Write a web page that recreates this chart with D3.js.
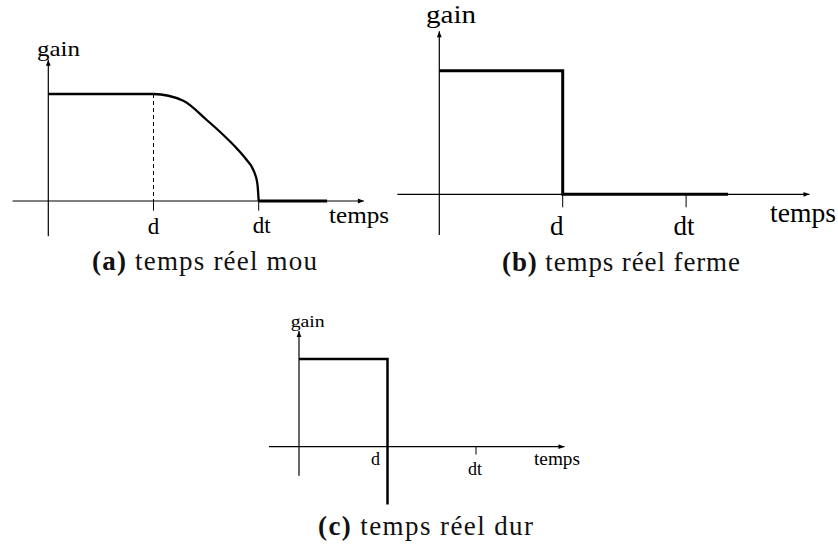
<!DOCTYPE html>
<html>
<head>
<meta charset="utf-8">
<script src="https://cdn.jsdelivr.net/npm/d3@7"></script>
<style>
  body { margin: 0; background: #fff; }
  svg { display: block; }
  .lbl { font-family: "Liberation Serif", "Times New Roman", serif; fill: #000; }
  .cap { font-family: "Liberation Serif", "Times New Roman", serif; fill: #111; }
</style>
</head>
<body>
<div id="chart"></div>
<script>
// time units: origin = 0, d = 1, dt = 2 ; gain units: 0 .. 1
var tickValues = [1, 2]
var tickLabels = ["d", "dt"]

// (a) soft real time : gain decays smoothly after d, reaches 0 at dt
var softGain = [[0,1],[1,1],[1.283,0.937],[1.506,0.757],[1.664,0.617],[1.791,0.492],[1.886,0.383],[1.949,0.29],[1.987,0.165],[2,0]]
var softTail = [[2,0],[2.65,0]]
// (b) firm real time : gain drops to 0 at d
var firmGain = [[0,1],[1,1],[1,0],[2.34,0]]
// (c) hard real time : gain falls below 0 at d
var hardGain = [[0,1],[1,1],[1,-0.66]]

var captions = [["(a)", " temps réel mou"], ["(b)", " temps réel ferme"], ["(c)", " temps réel dur"]]

var W = 838, H = 549

var svg = d3.select("#chart").append("svg")
    .attr("width", W)
    .attr("height", H)

// arrow head for the axes
svg.append("defs").append("marker")
    .attr("id", "arrow")
    .attr("markerUnits", "userSpaceOnUse")
    .attr("viewBox", "0 0 10 10")
    .attr("refX", 10).attr("refY", 5)
    .attr("markerWidth", 9).attr("markerHeight", 6)
    .attr("orient", "auto")
  .append("path")
    .attr("d", "M0,1 L10,5 L0,9 z")
    .attr("fill", "#000")

// panel geometry (pixel position of origin, d and gain=1) and label placement
var panels = [
  {ox: 48.3, dx: 153.5, oy: 201, gy: 94, lw: 2.3, data: softGain, tail: softTail, smooth: true,
   dashed: true, ticks: [1, 2], tickLen: 0.09,
   font: 23, gain: {x: 37, y: 56, size: 21, len: 43}, temps: {x: 329, y: 223, size: 24, len: 60},
   tl: [{dx: 0, y: 234}, {dx: 3, y: 233}],
   cap: {x: 92, y: 270, size: 27, len: 225}},
  {ox: 439.3, dx: 562.7, oy: 194.3, gy: 70.7, lw: 3, data: firmGain, smooth: false,
   dashed: false, ticks: [1, 2], tickLen: 0.105,
   font: 27, gain: {x: 426, y: 23, size: 25, len: 50}, temps: {x: 770, y: 222, size: 27, len: 66},
   tl: [{dx: -6, y: 235}, {dx: -2, y: 235}],
   cap: {x: 502, y: 271, size: 27, len: 238}},
  {ox: 299, dx: 387.5, oy: 446.7, gy: 359, lw: 2.5, data: hardGain, smooth: false,
   dashed: false, ticks: [2], tickLen: 0.09,
   font: 18, gain: {x: 290.7, y: 326.7, size: 17, len: 34}, temps: {x: 534, y: 465, size: 18, len: 46},
   tl: [{dx: -12, y: 465}, {dx: -1, y: 475}],
   cap: {x: 318, y: 535, size: 27, len: 215}}
]

panels.forEach(function(p, i) {
  var x = d3.scaleLinear().domain([0, 1]).range([p.ox, p.dx])
  var y = d3.scaleLinear().domain([0, 1]).range([p.oy, p.gy])
  var g = svg.append("g")

  // axes
  g.append("line")
      .attr("x1", x(-0.34)).attr("x2", x(3.0))
      .attr("y1", y(0)).attr("y2", y(0))
      .attr("stroke", "#000").attr("stroke-width", 1.2)
      .attr("marker-end", "url(#arrow)")
  g.append("line")
      .attr("x1", x(0)).attr("x2", x(0))
      .attr("y1", y(-0.33)).attr("y2", y(1.32))
      .attr("stroke", "#000").attr("stroke-width", 1.2)
      .attr("marker-end", "url(#arrow)")

  // dashed guide at d (panel a only)
  if (p.dashed) {
    g.append("line")
        .attr("x1", x(1)).attr("x2", x(1))
        .attr("y1", y(1)).attr("y2", y(0))
        .attr("stroke", "#000").attr("stroke-width", 1)
        .attr("stroke-dasharray", "4,3")
  }

  // ticks under the axis
  g.selectAll(".tick")
      .data(p.ticks)
    .enter().append("line")
      .attr("x1", function(d) { return x(d) }).attr("x2", function(d) { return x(d) })
      .attr("y1", y(0)).attr("y2", y(-p.tickLen))
      .attr("stroke", "#000").attr("stroke-width", 1)

  // gain curve
  var line = d3.line()
      .x(function(d) { return x(d[0]) })
      .y(function(d) { return y(d[1]) })
      .curve(p.smooth ? d3.curveMonotoneX : d3.curveLinear)
  g.append("path")
      .attr("d", line(p.data))
      .attr("fill", "none").attr("stroke", "#000")
      .attr("stroke-width", p.lw)
  if (p.tail) {
    g.append("path")
        .attr("d", d3.line().x(function(d) { return x(d[0]) }).y(function(d) { return y(d[1]) })(p.tail))
        .attr("fill", "none").attr("stroke", "#000")
        .attr("stroke-width", p.lw + 0.7)
  }

  // tick labels
  g.selectAll(".tl")
      .data(tickValues)
    .enter().append("text")
      .attr("class", "lbl")
      .attr("x", function(d, k) { return x(d) + p.tl[k].dx })
      .attr("y", function(d, k) { return p.tl[k].y })
      .attr("text-anchor", "middle")
      .style("font-size", p.font + "px")
      .text(function(d, k) { return tickLabels[k] })

  // axis titles, stretched to the width they have in the figure
  g.append("text").attr("class", "lbl")
      .attr("x", p.gain.x).attr("y", p.gain.y)
      .attr("textLength", p.gain.len).attr("lengthAdjust", "spacingAndGlyphs")
      .style("font-size", p.gain.size + "px")
      .text("gain")
  g.append("text").attr("class", "lbl")
      .attr("x", p.temps.x).attr("y", p.temps.y)
      .attr("textLength", p.temps.len).attr("lengthAdjust", "spacingAndGlyphs")
      .style("font-size", p.temps.size + "px")
      .text("temps")

  // caption
  var cap = g.append("text").attr("class", "cap")
      .attr("x", p.cap.x).attr("y", p.cap.y)
      .attr("textLength", p.cap.len)
      .style("font-size", p.cap.size + "px")
  cap.append("tspan").style("font-weight", "bold").text(captions[i][0])
  cap.append("tspan").text(captions[i][1])
})
</script>
</body>
</html>
